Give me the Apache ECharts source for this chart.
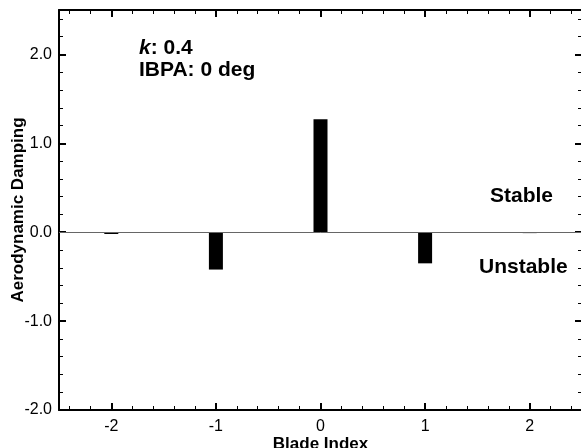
<!DOCTYPE html>
<html>
<head>
<meta charset="utf-8">
<script src="https://cdn.jsdelivr.net/npm/echarts@6/dist/echarts.min.js"></script>
<style>
  html, body { margin: 0; padding: 0; background: #fff; }
  #chart { width: 581px; height: 448px; }
</style>
</head>
<body>
<div id="chart"></div>
<script>
// Datos del gráfico
const bladeIndex = [-2, -1, 0, 1, 2];
const damping = [-0.02, -0.42, 1.27, -0.35, -0.01];
const xTicks = [-2, -1, 0, 1, 2];
const yTicks = [-2.0, -1.0, 0.0, 1.0, 2.0];

const FONT = '"Liberation Sans", Arial, sans-serif';

// Posiciones de las marcas menores del eje X (cada 0.2)
const xMinor = [];
for (let i = -12; i <= 12; i++) {
    if (i % 5 !== 0) xMinor.push(+(i * 0.2).toFixed(1));
}

document.addEventListener('DOMContentLoaded', function() {
    const chart = echarts.init(document.getElementById('chart'));

    const frame = { show: true, onZero: false, lineStyle: { color: '#000', width: 2 } };
    const majorTick = { show: true, inside: true, length: 7, lineStyle: { color: '#000', width: 2 } };
    const minorTick = { show: true, splitNumber: 5, length: 4, lineStyle: { color: '#000', width: 1 } };
    const labelStyle = { color: '#000', fontFamily: FONT, fontSize: 16 };
    const nameStyle = { color: '#000', fontFamily: FONT, fontSize: 17, fontWeight: 'bold' };

    // eje X: marcas mayores + etiquetas
    function xMajor(position, withLabels) {
        return {
            type: 'value', position: position, min: -2.5, max: 2.5, interval: 0.5,
            axisLine: frame,
            axisTick: Object.assign({}, majorTick, { customValues: xTicks }),
            splitLine: { show: false },
            axisLabel: withLabels
                ? Object.assign({}, labelStyle, { margin: 9, customValues: xTicks, formatter: v => String(v) })
                : { show: false }
        };
    }
    // eje X: sólo marcas menores
    function xMinorAxis(position) {
        return {
            type: 'value', position: position, min: -2.5, max: 2.5, interval: 0.5,
            axisLine: { show: false, onZero: false },
            axisTick: { show: true, inside: true, length: 4, customValues: xMinor, lineStyle: { color: '#000', width: 1 } },
            splitLine: { show: false }, axisLabel: { show: false }
        };
    }

    const xBottom = xMajor('bottom', true);
    xBottom.name = 'Blade Index';
    xBottom.nameLocation = 'middle';
    xBottom.nameGap = 26;
    xBottom.nameMoveOverlap = false;
    xBottom.nameTextStyle = nameStyle;

    const option = {
        animation: false,
        grid: { left: 59, right: -1, top: 10, bottom: 38, outerBoundsMode: 'none' },
        xAxis: [xBottom, xMajor('top', false), xMinorAxis('bottom'), xMinorAxis('top')],
        yAxis: [
            {
                type: 'value', min: -2, max: 2.5, interval: 1,
                axisLine: frame, axisTick: majorTick, minorTick: minorTick,
                splitLine: { show: false },
                axisLabel: Object.assign({}, labelStyle, {
                    margin: 7,
                    formatter: v => yTicks.includes(v) ? v.toFixed(1) : ''
                }),
                name: 'Aerodynamic Damping', nameLocation: 'middle', nameGap: 32,
                nameMoveOverlap: false,
                nameTextStyle: nameStyle
            },
            {
                type: 'value', position: 'right', min: -2, max: 2.5, interval: 1,
                axisLine: frame, axisTick: majorTick, minorTick: minorTick,
                splitLine: { show: false }, axisLabel: { show: false }
            }
        ],
        series: [
            {
                type: 'bar',
                barWidth: 14,
                data: bladeIndex.map((x, i) => [x, damping[i]]),
                itemStyle: { color: '#000' },
                markLine: {
                    silent: true,
                    symbol: 'none',
                    label: { show: false },
                    lineStyle: { color: '#666', width: 1, type: 'solid' },
                    data: [{ yAxis: 0 }]
                }
            }
        ],
        graphic: [
            {
                type: 'text', left: 139, top: 37,
                style: {
                    text: '{i|k}: 0.4\nIBPA: 0 deg',
                    font: 'bold 21px ' + FONT, fill: '#000', lineHeight: 22,
                    rich: { i: { fontStyle: 'italic', fontWeight: 'bold', fontSize: 21, fontFamily: FONT, lineHeight: 22 } }
                }
            },
            {
                type: 'text', left: 490, top: 186,
                style: { text: 'Stable', font: 'bold 21px ' + FONT, fill: '#000' }
            },
            {
                type: 'text', left: 479, top: 257,
                style: { text: 'Unstable', font: 'bold 21px ' + FONT, fill: '#000' }
            }
        ]
    };

    chart.setOption(option);
});
</script>
</body>
</html>
